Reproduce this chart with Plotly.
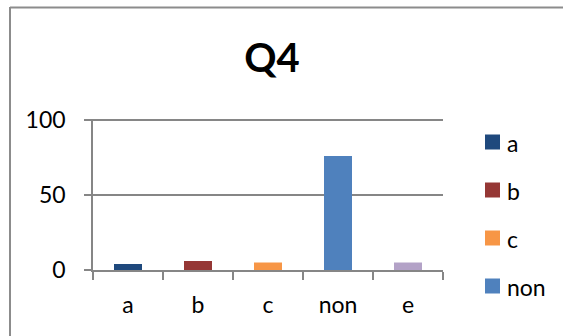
import plotly.graph_objects as go

# Survey answers for question Q4
categories = ["a", "b", "c", "non", "e"]
values = [4, 6, 5, 76, 5]
colors = ["#1F497D", "#953735", "#F79646", "#4F81BD", "#B3A2C7"]
in_legend = [True, True, True, True, False]

y_ticks = [0, 50, 100]

FONT = "Lato, 'Open Sans', sans-serif"
AXIS_GREY = "#868686"

W, H = 563, 336
L, R, T, B = 93, 120, 119, 66
PLOT_W = W - L - R
PLOT_H = H - T - B


def px_x(x):
    """Page pixel column -> paper x."""
    return (x - L) / PLOT_W


def px_y(y):
    """Page pixel row -> paper y."""
    return (H - B - y) / PLOT_H


fig = go.Figure()
for cat, val, col in zip(categories, values, colors):
    fig.add_trace(go.Bar(
        x=[cat], y=[val], name=cat, width=0.4,
        marker=dict(color=col, line=dict(width=0)),
        showlegend=False,
    ))

fig.update_layout(
    width=W, height=H,
    margin=dict(l=L, r=R, t=T, b=B),
    paper_bgcolor="white", plot_bgcolor="white",
    barmode="overlay",
    showlegend=False,
    font=dict(family=FONT, size=23, color="#000000"),
    title=dict(
        text="<b>Q4</b>", font=dict(family=FONT, size=40, color="#000000"),
        x=272 / W, xanchor="center", xref="container",
        y=1 - 58 / H, yanchor="middle", yref="container",
    ),
    xaxis=dict(
        type="category", categoryorder="array", categoryarray=categories,
        showline=True, linecolor=AXIS_GREY, linewidth=1.5,
        ticks="outside", ticklen=8, tickcolor=AXIS_GREY, tickwidth=1.5,
        tickson="boundaries", showgrid=False, ticklabelstandoff=14,
    ),
    yaxis=dict(
        range=[0, 100.7], tickvals=y_ticks,
        showline=True, linecolor=AXIS_GREY, linewidth=1.5,
        ticks="outside", ticklen=7, tickcolor=AXIS_GREY, tickwidth=1.5,
        showgrid=True, gridcolor=AXIS_GREY, gridwidth=1.5,
        zeroline=False, ticklabelstandoff=14,
    ),
)

# Legend: a square swatch and a label per listed category
LEG_TOP, LEG_STEP, SWATCH = 142, 48, 15
row = 0
for cat, col, show in zip(categories, colors, in_legend):
    if not show:
        continue
    cy = LEG_TOP + row * LEG_STEP
    fig.add_shape(
        type="rect", xref="paper", yref="paper",
        x0=px_x(485), x1=px_x(485 + SWATCH),
        y0=px_y(cy + SWATCH / 2), y1=px_y(cy - SWATCH / 2),
        fillcolor=col, line=dict(width=0),
    )
    fig.add_annotation(
        text=cat, xref="paper", yref="paper",
        x=px_x(505), y=px_y(cy + 1), xanchor="left", yanchor="middle",
        showarrow=False, font=dict(family=FONT, size=23, color="#000000"),
    )
    row += 1

# Chart-area frame: left and top edges, running to the page border
FRAME = dict(color="#8C8C8C", width=2)
fig.add_shape(
    type="line", xref="paper", yref="paper",
    x0=px_x(10), x1=px_x(10), y0=px_y(H), y1=px_y(7),
    line=FRAME, layer="below",
)
fig.add_shape(
    type="line", xref="paper", yref="paper",
    x0=px_x(10), x1=px_x(W), y0=px_y(7.5), y1=px_y(7.5),
    line=FRAME, layer="below",
)

# Keep the page exactly the size of the figure (no margins or scrollbars)
PAGE_JS = (
    "document.documentElement.style.overflow='hidden';"
    "document.body.style.margin='0';"
    "document.body.style.overflow='hidden';"
)

fig.write_html("out.html", post_script=PAGE_JS)
